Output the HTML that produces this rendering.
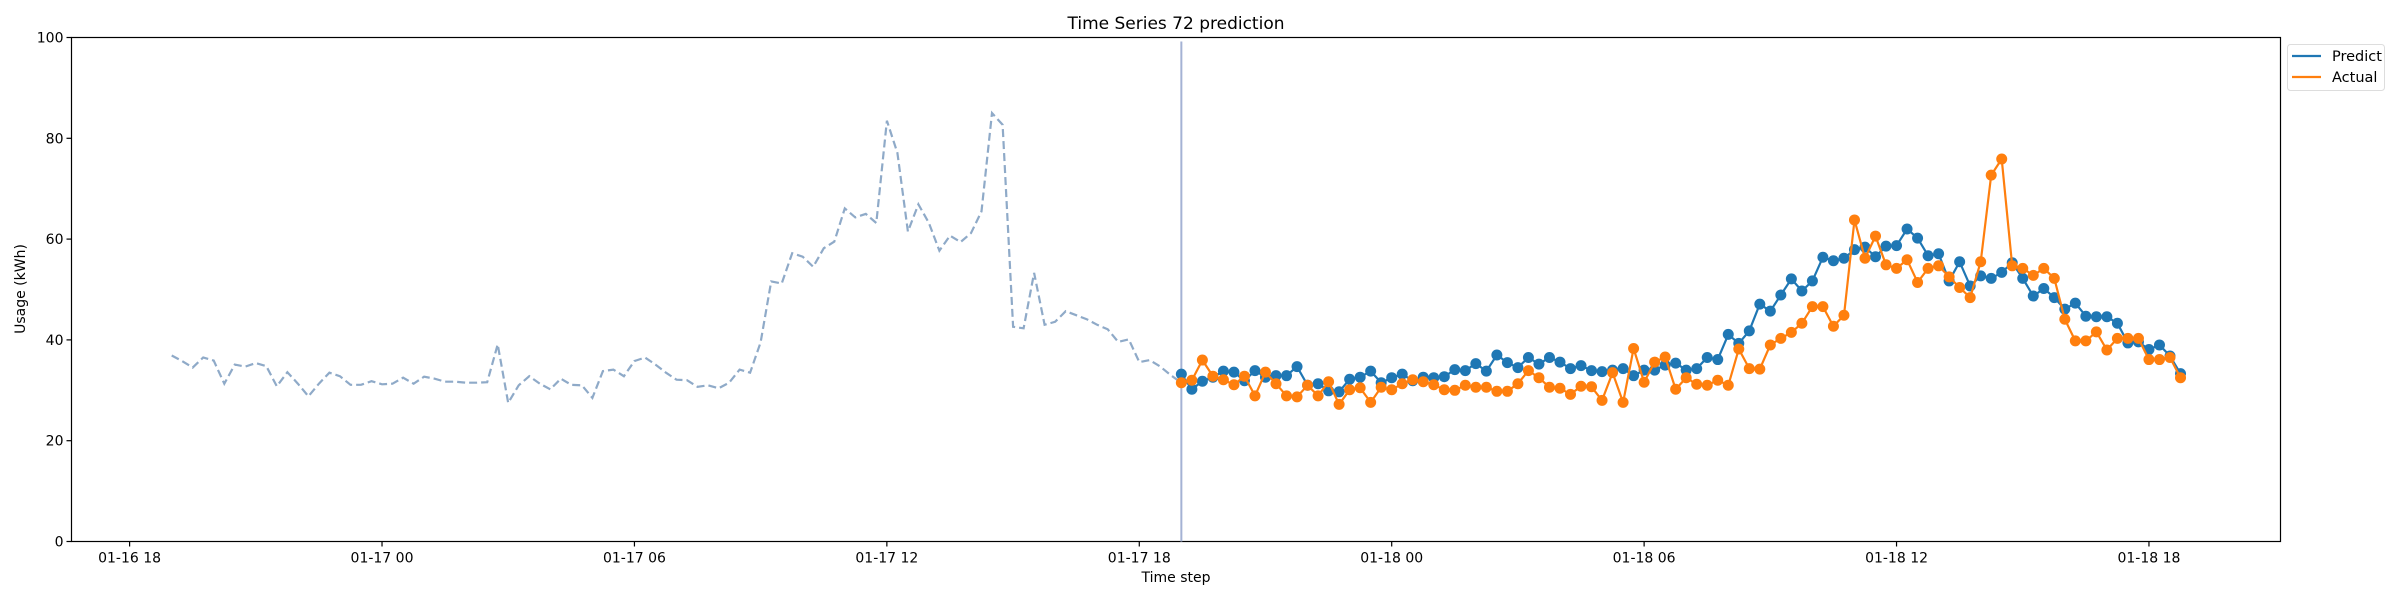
<!DOCTYPE html>
<html><head><meta charset="utf-8"><style>
html,body{margin:0;padding:0;background:#fff;}
svg{display:block;font-family:"DejaVu Sans","Liberation Sans",sans-serif;}
</style></head><body>
<svg id="chart" width="2400" height="600" viewBox="0 0 2400 600" xmlns="http://www.w3.org/2000/svg">
<rect x="0" y="0" width="2400" height="600" fill="#fff"/>
<text x="1176" y="29" font-size="17" text-anchor="middle" fill="#000">Time Series 72 prediction</text>
<text x="1176" y="582" font-size="14" text-anchor="middle" fill="#000">Time step</text>
<text x="0" y="0" font-size="14" text-anchor="middle" fill="#000" transform="translate(25,289) rotate(-90)">Usage (kWh)</text>
<g id="plot"></g>
<g>
<rect x="2287.5" y="44.5" width="97" height="46" rx="3" fill="#fff" stroke="#ddd" stroke-width="1"/>
<line x1="2292" y1="56" x2="2321" y2="56" stroke="#1f77b4" stroke-width="2.2"/>
<text x="2332" y="61" font-size="14.5" fill="#000">Predict</text>
<line x1="2292" y1="77" x2="2321" y2="77" stroke="#ff7f0e" stroke-width="2.2"/>
<text x="2332" y="82" font-size="14.5" fill="#000">Actual</text>
</g>
</svg>
<script>
var histVals = [36.9,35.8,34.5,36.5,35.9,31.3,35.1,34.7,35.4,34.8,30.8,33.6,31.3,28.8,31.3,33.5,32.8,31.1,31.1,31.8,31.2,31.3,32.5,31.3,32.7,32.3,31.7,31.7,31.5,31.5,31.6,39.1,27.5,31.0,32.8,31.3,30.2,32.3,
31.1,31.0,28.5,33.8,34.1,32.8,35.8,36.5,35.1,33.5,32.1,32.0,30.7,31.0,30.4,31.5,
34.1,33.5,39.5,51.6,51.2,57.2,56.5,54.5,58.2,59.5,66.1,64.3,65.0,63.2,83.5,77.1,61.5,66.9,63.2,57.7,60.7,59.4,61.2,65.5,85.0,82.7,42.6,42.3,53.3,43.0,43.6,45.7,44.9,44.1,43.0,42.1,39.6,40.1,35.6,36.0,34.7,33.0];
var predict = [33.2,30.2,31.8,32.6,33.8,33.6,31.9,33.9,32.6,32.9,32.9,34.7,31.0,31.3,29.9,29.7,32.2,32.6,33.8,31.5,32.5,33.2,31.9,32.6,32.5,32.7,34.1,33.9,35.3,33.8,37.0,35.5,34.5,
36.5,35.2,36.5,35.6,34.3,34.9,33.9,33.7,34.0,34.3,32.9,34.0,34.0,35.0,35.4,34.0,34.3,36.5,36.1,41.1,39.3,41.8,47.1,45.7,48.9,52.1,49.7,51.7,56.4,55.7,56.2,57.9,
58.4,56.5,58.6,58.7,62.0,60.2,56.7,57.1,51.7,55.5,50.7,52.7,52.2,53.4,55.3,52.2,48.7,50.2,48.4,46.1,47.3,44.7,44.6,44.6,43.3,39.4,39.6,38.1,39.0,36.8,33.3];
var actual = [31.5,32.0,36.0,32.8,32.1,31.1,32.8,28.9,33.6,31.3,28.9,28.7,31.0,28.9,31.7,27.2,30.1,30.5,27.6,30.6,30.1,31.3,32.1,31.7,31.1,30.1,30.0,31.0,30.6,30.6,29.8,29.8,31.3,
33.9,32.5,30.6,30.4,29.2,30.8,30.7,28.0,33.5,27.6,38.3,31.6,35.6,36.6,30.2,32.5,31.2,31.0,32.0,31.0,38.2,34.3,34.2,39.0,40.3,41.5,43.3,46.6,46.6,42.7,44.9,63.8,
56.2,60.6,54.9,54.2,55.9,51.4,54.2,54.7,52.5,50.4,48.4,55.5,72.7,75.9,54.7,54.2,52.8,54.2,52.2,44.1,39.8,39.8,41.6,38.0,40.3,40.3,40.3,36.1,36.1,36.5,32.5];
var xTickLabels = ["01-16 18","01-17 00","01-17 06","01-17 12","01-17 18","01-18 00","01-18 06","01-18 12","01-18 18"];
var xTickHours = [0,6,12,18,24,30,36,42,48];
var yTickValues = [0,20,40,60,80,100];
var historyStartHour = 1;
var forecastStartHour = 25;
var stepHours = 0.25;

var L=71.5,R=2280.5,T=37.5,B=541.5;
function xs(h){return 129.6+h*42.07;}
function ys(v){return 541.5-v*5.04;}
var NS='http://www.w3.org/2000/svg';
var plot=document.getElementById('plot');
function mk(tag,attrs,parent){var e=document.createElementNS(NS,tag);for(var k in attrs)e.setAttribute(k,attrs[k]);(parent||plot).appendChild(e);return e;}

var fr=mk('rect',{x:L,y:T,width:R-L,height:B-T,fill:'none',stroke:'#000','stroke-width':1.2});



yTickValues.forEach(function(v){
  var y=ys(v);
  var t=mk('line',{x1:L-5,y1:y,x2:L,y2:y,stroke:'#000','stroke-width':1.2});
  
  
  var tx=mk('text',{x:L-8,y:y+5,'font-size':14,'text-anchor':'end',fill:'#000'});
  tx.textContent=v;
  
  
});
xTickHours.forEach(function(h,i){
  var x=xs(h);
  var t=mk('line',{x1:x,y1:B,x2:x,y2:B+5,stroke:'#000','stroke-width':1.2});
  
  
  var tx=mk('text',{x:x,y:B+21,'font-size':14,'text-anchor':'middle',fill:'#000'});
  tx.textContent=xTickLabels[i];
  
  
});

var hp=[];
histVals.forEach(function(v,i){hp.push(xs(historyStartHour+i*stepHours).toFixed(1)+','+ys(v).toFixed(1));});
hp.push(xs(forecastStartHour).toFixed(1)+','+ys(actual[0]).toFixed(1));
var hl=mk('polyline',{points:hp.join(' '),fill:'none',stroke:'#8faac8','stroke-width':2.2,'stroke-dasharray':'8,4'});



var vx=xs(forecastStartHour);
var vl=mk('line',{x1:vx,y1:T+4,x2:vx,y2:B,stroke:'#a4b2d4','stroke-width':2});



function series(arr,color,name){
  var pts=arr.map(function(v,i){return xs(forecastStartHour+i*stepHours).toFixed(1)+','+ys(v).toFixed(1);});
  var pl=mk('polyline',{points:pts.join(' '),fill:'none',stroke:color,'stroke-width':2.2});
  
  
  arr.forEach(function(v,i){
    var c=mk('circle',{cx:xs(forecastStartHour+i*stepHours),cy:ys(v),r:5.5,fill:color});
    
    
  });
}
series(predict,'#1f77b4','predict');
series(actual,'#ff7f0e','actual');
</script>
</body></html>
